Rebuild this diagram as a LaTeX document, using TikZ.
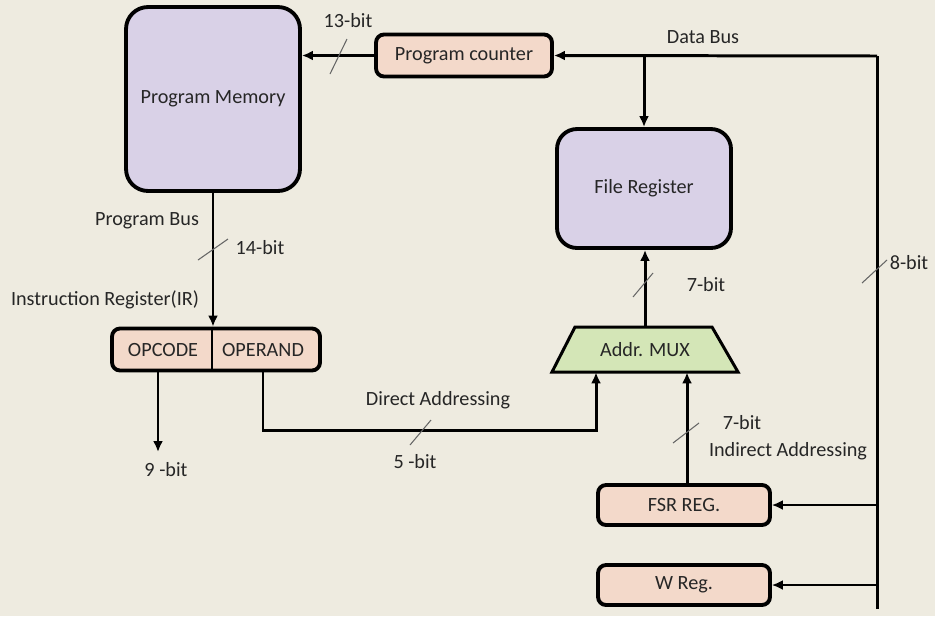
\documentclass[tikz,border=0pt]{standalone}
\usepackage{fontspec}
\setmainfont{Carlito}
\usetikzlibrary{arrows.meta}
\definecolor{paper}{HTML}{EEEBE0}
\definecolor{memfill}{HTML}{D9D1E7}
\definecolor{regfill}{HTML}{F3D9CA}
\definecolor{muxfill}{HTML}{D4E6B7}
\tikzset{
	txt/.style={font=\fontsize{11.5}{13}\selectfont,text=black!85},
	blk/.style={txt,draw=black,line width=2.2pt,inner sep=0pt},
	mem/.style={blk,fill=memfill,rounded corners=0.44cm,minimum width=3.48cm},
	reg/.style={blk,fill=regfill,rounded corners=0.16cm,minimum height=0.84cm},
	muxbox/.style={txt,inner sep=0pt,minimum width=3.72cm,minimum height=0.9cm},
	bus/.style={line width=1.7pt},
	arr/.style={bus,-{Latex[length=2.2mm,width=2mm]}},
	thinarr/.style={line width=1.1pt,-{Latex[length=2.2mm,width=2mm]}},
	tick/.style={draw=black!60,line width=0.6pt},
	lbl/.style={txt,inner sep=0pt},
}
\begin{document}
\begin{tikzpicture}[x=0.02cm,y=-0.02cm]
		\path[use as bounding box,fill=paper] (0,0) rectangle (935,616);

		\node[mem,minimum height=3.68cm] (pm) at (213,99) {Program Memory};
		\node[reg,minimum width=3.52cm] (pc) at (464,55.5) {Program counter};
		\node[mem,minimum height=2.38cm,rounded corners=0.4cm] (fr) at (644,188.5) {File Register};
		\node[reg,minimum width=4.16cm] (ir) at (216,349.5) {};
		\node[lbl] (opc) at (163,350) {OPCODE};
		\node[lbl] (opd) at (263,350) {OPERAND};
		\draw[line width=0.8pt] (ir.north -| 212,0)--(ir.south -| 212,0);
		\draw[line width=1.7pt,fill=muxfill] (575,327)--(712,327)--(738,372)--(552,372)--cycle;
		\node[muxbox] (mux) at (645,349.5) {Addr. MUX};
		\node[reg,minimum width=3.44cm,minimum height=0.8cm] (fsr) at (684,505) {FSR REG.};
		\node[reg,minimum width=3.44cm,minimum height=0.8cm] (wreg) at (684,585) {W Reg.};

		\coordinate (bustop) at (877,56);
		\coordinate (busbot) at (877,609);
		\coordinate (tap) at (fr.north |- bustop);
		\coordinate (opout) at (158,452);
		\coordinate (dirturn) at (263,430);
		\coordinate (dirin) at (596,430);

		% data bus
		\draw[bus] (busbot)--(bustop);
		\draw[arr] (bustop)--(pc.east);
		\draw[arr] (tap)--(fr.north);
		\draw[thinarr] (busbot |- fsr.east)--(fsr.east);
		\draw[thinarr] (busbot |- wreg.east)--(wreg.east);

		% program side
		\draw[arr] (pc.west)--(pm.east |- pc.west);
		\draw[arr] (pm.south)--(ir.north -| pm.south);
		\draw[arr] (ir.south -| opout)--(opout);
		\draw[arr] (ir.south -| dirturn)--(dirturn)--(dirin)--(mux.south -| dirin);
		\draw[arr] (fsr.north -| 687,0)--(mux.south -| 687,0);
		\draw[arr] (mux.north)--(fr.south -| mux.north);

		% bus widths
		\draw[tick] (330,74)--(347,39) (198,260)--(228,239) (410,445)--(431,420)
			(633,297)--(653,273) (673,443)--(699,423) (862,283)--(887,260);

		\node[lbl] (l13) at (348,21) {13-bit};
		\node[lbl] (ldb) at (703,37) {Data Bus};
		\node[lbl] (lpb) at (147,221) {Program Bus};
		\node[lbl] (l14) at (260,248) {14-bit};
		\node[lbl] (lir) at (105,300) {Instruction Register(IR)};
		\node[lbl] (l9) at (166,470) {9 -bit};
		\node[lbl] (lda) at (438,400) {Direct Addressing};
		\node[lbl] (l5) at (415,462) {5 -bit};
		\node[lbl] (l7a) at (706,285) {7-bit};
		\node[lbl] (l8) at (909,263) {8-bit};
		\node[lbl] (l7b) at (742,423) {7-bit};
		\node[lbl] (lia) at (788,451) {Indirect Addressing};
	\end{tikzpicture}
\end{document}
